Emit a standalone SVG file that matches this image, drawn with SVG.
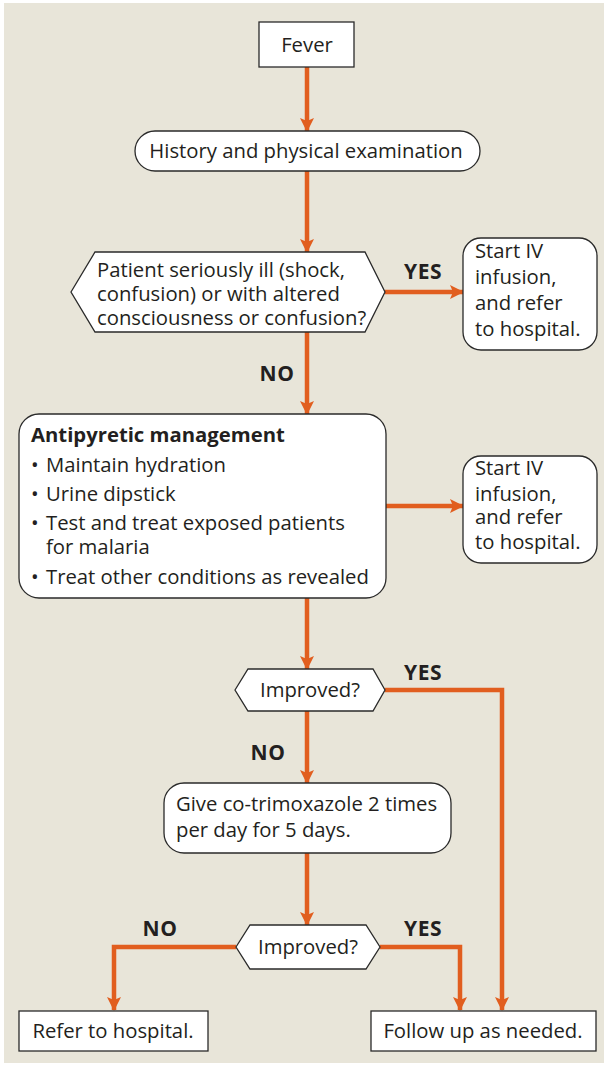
<svg xmlns="http://www.w3.org/2000/svg" width="608" height="1065" viewBox="0 0 608 1065">
<defs>
<style>
.bg{fill:#E8E5D9}
.n{fill:#fff;stroke:#2a2a2a;stroke-width:1.3}
.t{font-family:"Open Sans","Noto Sans","Liberation Sans",sans-serif;font-size:20.3px;fill:#231f20}
.c{text-anchor:middle}
.b{font-weight:bold}
.lbl{font-family:"Open Sans","Noto Sans","Liberation Sans",sans-serif;font-size:21px;font-weight:bold;fill:#231f20;text-anchor:middle;letter-spacing:0.5px}
.e{fill:none;stroke:#E15E1F;stroke-width:4.5;marker-end:url(#ah)}
</style>
<marker id="ah" markerUnits="userSpaceOnUse" markerWidth="14" markerHeight="16" viewBox="0 0 14 16" refX="13" refY="8" orient="auto">
<path d="M0,1 L14,8 L0,15 L3,8 Z" fill="#E15E1F"/>
</marker>
</defs>
<rect class="bg" x="4" y="3" width="600" height="1060"/>
<g id="connectors">
<path class="e" d="M307,67 V131"/>
<path class="e" d="M307,171 V252"/>
<path class="e" d="M385,292 H463"/>
<path class="e" d="M307,332 V414"/>
<path class="e" d="M386,506 H463"/>
<path class="e" d="M307,598 V669"/>
<path class="e" d="M385,690 H502 V1010"/>
<path class="e" d="M307,711 V783"/>
<path class="e" d="M307,853 V925"/>
<path class="e" d="M236,947 H114 V1010"/>
<path class="e" d="M380,947 H460 V1010"/>
</g>
<g id="labels">
<text class="lbl" x="423" y="279">YES</text>
<text class="lbl" x="277" y="381">NO</text>
<text class="lbl" x="423" y="680">YES</text>
<text class="lbl" x="268" y="760">NO</text>
<text class="lbl" x="160" y="936">NO</text>
<text class="lbl" x="423" y="936">YES</text>
</g>
<g id="fever">
<rect class="n" x="259" y="22" width="95" height="45"/>
<text class="t c" x="307" y="52">Fever</text>
</g>
<g id="history">
<rect class="n" x="135" y="131" width="345" height="40" rx="20"/>
<text class="t c" x="306" y="158">History and physical examination</text>
</g>
<g id="decision1">
<polygon class="n" points="71,292 95,252 365,252 385,292 365,332 95,332"/>
<text class="t" x="97" y="277">Patient seriously ill (shock,</text>
<text class="t" x="97" y="301">confusion) or with altered</text>
<text class="t" x="97" y="325">consciousness or confusion?</text>
</g>
<g id="refer1">
<rect class="n" x="463" y="238" width="134" height="112" rx="18"/>
<text class="t" x="475" y="258">Start IV</text>
<text class="t" x="475" y="284">infusion,</text>
<text class="t" x="475" y="310">and refer</text>
<text class="t" x="475" y="336">to hospital.</text>
</g>
<g id="antipyretic">
<rect class="n" x="19" y="414" width="367" height="184" rx="20"/>
<text class="t b" x="31" y="442">Antipyretic management</text>
<text class="t" x="31" y="472">•</text><text class="t" x="46" y="472">Maintain hydration</text>
<text class="t" x="31" y="501">•</text><text class="t" x="46" y="501">Urine dipstick</text>
<text class="t" x="31" y="530">•</text><text class="t" x="46" y="530">Test and treat exposed patients</text>
<text class="t" x="46" y="554">for malaria</text>
<text class="t" x="31" y="584">•</text><text class="t" x="46" y="584">Treat other conditions as revealed</text>
</g>
<g id="refer2">
<rect class="n" x="463" y="456" width="134" height="107" rx="18"/>
<text class="t" x="475" y="475">Start IV</text>
<text class="t" x="475" y="501">infusion,</text>
<text class="t" x="475" y="524">and refer</text>
<text class="t" x="475" y="549">to hospital.</text>
</g>
<g id="improved1">
<polygon class="n" points="235,690 248,669 373,669 385,690 373,711 248,711"/>
<text class="t c" x="310" y="697">Improved?</text>
</g>
<g id="cotrimoxazole">
<rect class="n" x="164" y="783" width="287" height="70" rx="20"/>
<text class="t" x="176" y="811">Give co-trimoxazole 2 times</text>
<text class="t" x="176" y="837">per day for 5 days.</text>
</g>
<g id="improved2">
<polygon class="n" points="236,947 250,925 366,925 380,947 366,969 250,969"/>
<text class="t c" x="308" y="954">Improved?</text>
</g>
<g id="referhospital">
<rect class="n" x="19" y="1011" width="189" height="40"/>
<text class="t c" x="113" y="1038">Refer to hospital.</text>
</g>
<g id="followup">
<rect class="n" x="371" y="1011" width="225" height="40"/>
<text class="t c" x="483" y="1038">Follow up as needed.</text>
</g>
</svg>
